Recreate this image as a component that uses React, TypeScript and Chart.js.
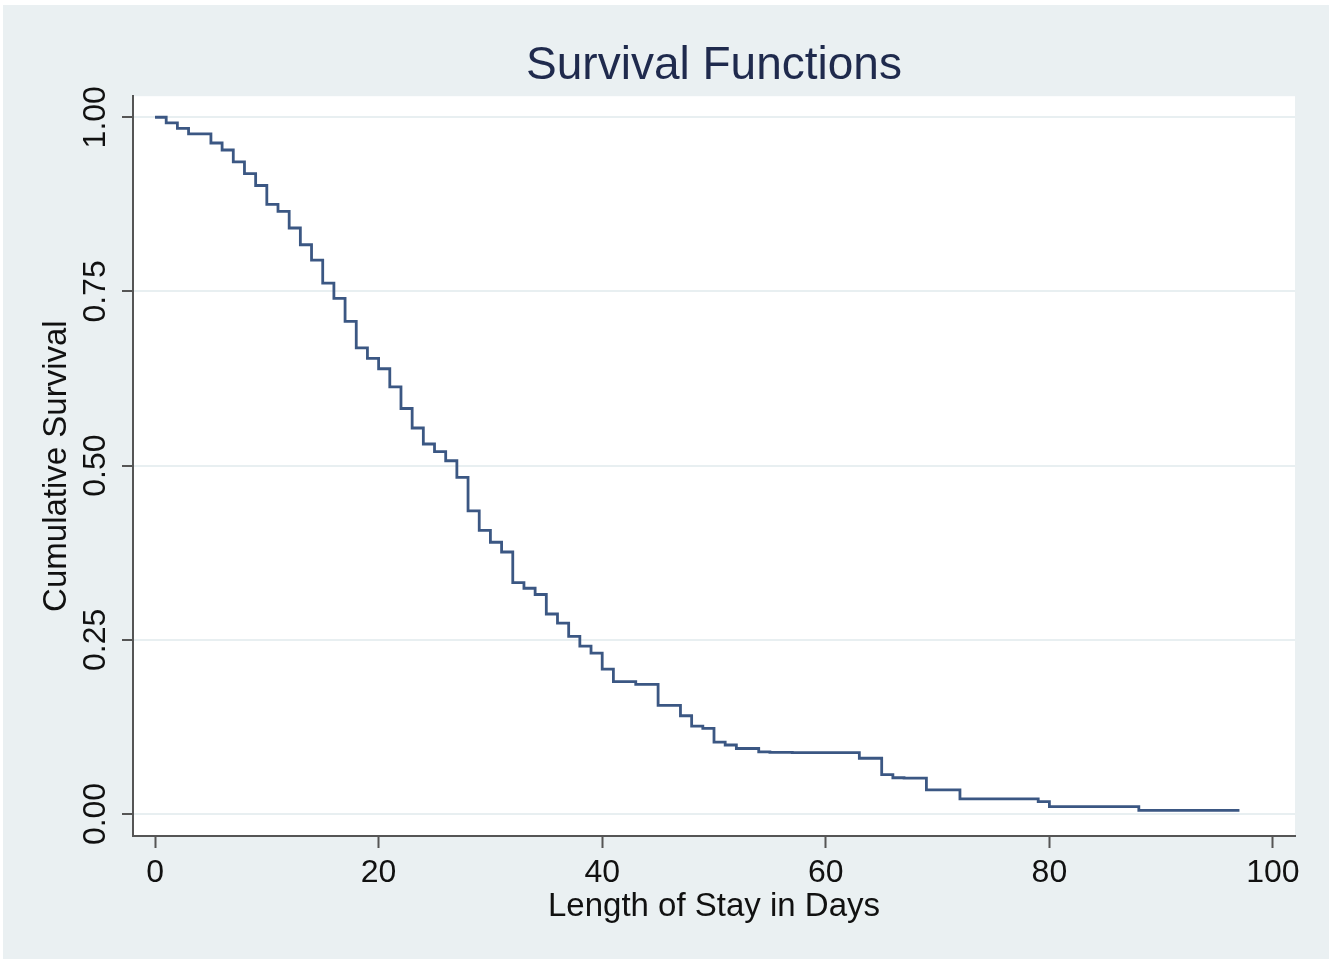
import React, { useEffect, useRef } from "react";
import { Chart, registerables } from "chart.js";

Chart.register(...registerables);

const days: number[] = [0, 1, 2, 3, 5, 6, 7, 8, 9, 10, 11, 12, 13, 14, 15, 16, 17, 18, 19, 20, 21, 22, 23, 24, 25, 26, 27, 28, 29, 30, 31, 32, 33, 34, 35, 36, 37, 38, 39, 40, 41, 43, 45, 47, 48, 49, 50, 51, 52, 54, 55, 57, 63, 65, 66, 67, 69, 72, 79, 80, 88, 97];
const survival: number[] = [1.0, 0.992, 0.984, 0.976, 0.963, 0.953, 0.936, 0.919, 0.902, 0.875, 0.865, 0.841, 0.817, 0.795, 0.762, 0.74, 0.707, 0.669, 0.654, 0.639, 0.613, 0.582, 0.554, 0.531, 0.52, 0.507, 0.483, 0.435, 0.407, 0.39, 0.376, 0.332, 0.324, 0.315, 0.287, 0.274, 0.255, 0.241, 0.231, 0.208, 0.19, 0.186, 0.156, 0.141, 0.126, 0.123, 0.103, 0.099, 0.094, 0.089, 0.0885, 0.088, 0.08, 0.0565, 0.052, 0.0515, 0.0345, 0.0216, 0.0177, 0.0105, 0.0053, 0.0053];
const xTicks: number[] = [0, 20, 40, 60, 80, 100];
const yTicks: string[] = ["0.00", "0.25", "0.50", "0.75", "1.00"];

const titleText = "Survival Functions";
const xTitle = "Length of Stay in Days";
const yTitle = "Cumulative Survival";

const FONT = "'Liberation Sans', Arial, Helvetica, sans-serif";

export default function App() {
  const ref = useRef<HTMLCanvasElement | null>(null);

  useEffect(() => {
    const canvas = ref.current;
    if (!canvas) return;
    const bgPlugin = {
      id: "bg",
      beforeDraw(chart: any) {
        const { ctx, width, height, chartArea } = chart;
        ctx.save();
        ctx.fillStyle = "#ffffff";
        ctx.fillRect(0, 0, width, height);
        ctx.fillStyle = "#eaf0f2";
        ctx.fillRect(3, 5, width - 7, height - 9);
        ctx.fillStyle = "#ffffff";
        ctx.fillRect(chartArea.left, chartArea.top, chartArea.right - chartArea.left, chartArea.bottom - chartArea.top);
        ctx.restore();
      },
    };
    const chart = new Chart(canvas, {
      type: "line",
      data: {
        datasets: [
          {
            data: days.map((d, i) => ({ x: d, y: survival[i] })),
            stepped: true,
            borderColor: "#3b5783",
            borderWidth: 2.8,
            pointRadius: 0,
            fill: false,
          },
        ],
      },
      options: {
        animation: false,
        responsive: false,
        layout: { padding: { left: 0, right: 38, top: 0, bottom: 0 } },
        plugins: {
          legend: { display: false },
          tooltip: { enabled: false },
          title: {
            display: true,
            text: titleText,
            fullSize: false,
            color: "#1f2a4d",
            font: { family: FONT, size: 46, weight: "normal", lineHeight: 1.2 },
            padding: { top: 39, bottom: 2 },
          },
        },
        scales: {
          x: {
            type: "linear",
            min: -1.97,
            max: 101.97,
            afterFit(scale: any) {
              scale.height = 127;
              scale.paddingLeft = 0;
              scale.paddingRight = 0;
            },
            afterBuildTicks(scale: any) {
              scale.ticks = xTicks.map((v) => ({ value: v }));
            },
            ticks: {
              color: "#111111",
              font: { family: FONT, size: 32 },
              padding: 6,
              maxRotation: 0,
              minRotation: 0,
              callback: (v: any) => String(v),
            },
            grid: {
              drawOnChartArea: false,
              drawTicks: true,
              tickLength: 12,
              tickColor: "#555555",
              tickWidth: 2,
            },
            border: { display: true, color: "#555555", width: 2 },
            title: {
              display: true,
              text: xTitle,
              color: "#111111",
              font: { family: FONT, size: 33, lineHeight: 1.2 },
              padding: { top: 0, bottom: 36 },
            },
          },
          y: {
            type: "linear",
            min: -0.0316,
            max: 1.0302,
            afterFit(scale: any) {
              scale.width = 133;
              scale.paddingTop = 0;
              scale.paddingBottom = 0;
            },
            afterBuildTicks(scale: any) {
              scale.ticks = yTicks.map((t) => ({ value: parseFloat(t) }));
            },
            ticks: {
              color: "#111111",
              font: { family: FONT, size: 32 },
              minRotation: 90,
              maxRotation: 90,
              crossAlign: "center",
              padding: -5,
              callback: (v: any) => Number(v).toFixed(2),
            },
            grid: {
              drawOnChartArea: true,
              color: "#e8eff1",
              lineWidth: 2,
              drawTicks: true,
              tickLength: 11,
              tickColor: "#555555",
              tickWidth: 2,
            },
            border: { display: true, color: "#555555", width: 2 },
            title: {
              display: true,
              text: yTitle,
              color: "#111111",
              font: { family: FONT, size: 33, lineHeight: 1.2 },
              padding: { top: 37, bottom: 0 },
            },
          },
        },
      },
      plugins: [bgPlugin],
    } as any);
    return () => chart.destroy();
  }, []);

  return (
    <div style={{ position: "absolute", left: 0, top: 0, width: 1333, height: 963 }}>
      <canvas ref={ref} width={1333} height={963} style={{ display: "block", width: 1333, height: 963 }} />
    </div>
  );
}
